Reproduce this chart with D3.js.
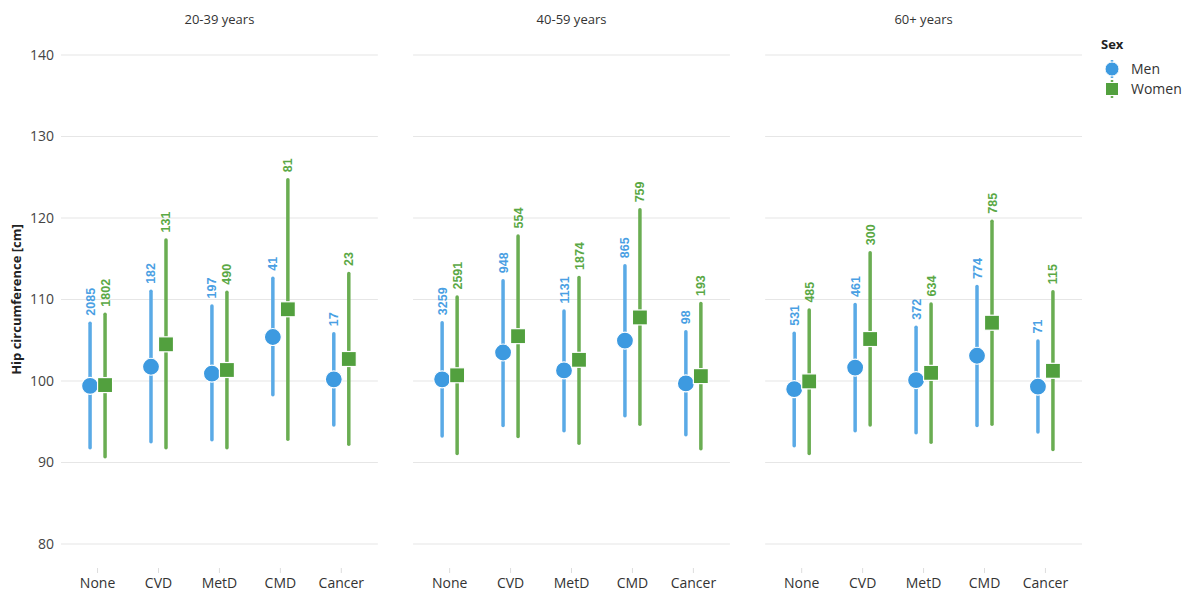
<!DOCTYPE html>
<html>
<head>
<meta charset="utf-8">
<script src="https://cdn.jsdelivr.net/npm/d3@7"></script>
<style>
  body { margin: 0; background: #fff; }
  text { font-family: "Open Sans", "Noto Sans", sans-serif; }
</style>
</head>
<body>
<svg id="chart" width="1192" height="596"></svg>
<script>
var ageGroups = ["20-39 years", "40-59 years", "60+ years"];
var diseases = ["None", "CVD", "MetD", "CMD", "Cancer"];
var sexes = ["Men", "Women"];
var yTicks = [80, 90, 100, 110, 120, 130, 140];

// per age group, per disease: mean, lower, upper, n
var menMean = [[99.4, 101.75, 100.9, 105.4, 100.2], [100.2, 103.5, 101.3, 104.95, 99.7], [99.0, 101.65, 100.1, 103.1, 99.3]];
var menLow  = [[91.8, 92.55, 92.8, 98.3, 94.6], [93.25, 94.55, 93.9, 95.75, 93.4], [92.05, 93.9, 93.65, 94.55, 93.75]];
var menHigh = [[107.1, 111.0, 109.2, 112.6, 105.8], [107.15, 112.3, 108.6, 114.15, 106.05], [105.85, 109.4, 106.6, 111.6, 104.9]];
var menN    = [[2085, 182, 197, 41, 17], [3259, 948, 1131, 865, 98], [531, 461, 372, 774, 71]];

var womenMean = [[99.5, 104.5, 101.35, 108.8, 102.7], [100.7, 105.5, 102.6, 107.8, 100.6], [99.95, 105.15, 101.0, 107.15, 101.25]];
var womenLow  = [[90.7, 91.8, 91.8, 92.85, 92.25], [91.1, 93.2, 92.35, 94.7, 91.7], [91.1, 94.6, 92.5, 94.7, 91.6]];
var womenHigh = [[108.2, 117.3, 110.9, 124.7, 113.2], [110.3, 117.8, 112.7, 121.0, 109.5], [108.7, 115.75, 109.45, 119.6, 110.95]];
var womenN    = [[1802, 131, 490, 81, 23], [2591, 554, 1874, 759, 193], [485, 300, 634, 785, 115]];

var pointColor = { Men: "#3d9ae0", Women: "#52a03e" };
var lineColor = { Men: "#5aaae6", Women: "#6aad52" };
var labelColor = { Men: "#4a9fe3", Women: "#5aa845" };

var svg = d3.select("#chart");

var y = d3.scaleLinear().domain([80, 140]).range([544, 55]);
var panelX = d3.scaleBand().domain(ageGroups).range([61, 1082]).paddingInner(0.1).paddingOuter(0);
var dodge = d3.scalePoint().domain(sexes).range([-7.5, 7.5]);

// y axis labels (left panel only)
svg.append("g").selectAll("text")
    .data(yTicks).enter().append("text")
    .attr("x", 54).attr("y", function (d) { return y(d); })
    .attr("dy", "0.35em")
    .attr("text-anchor", "end")
    .style("font-size", "14px").style("fill", "#444")
    .text(function (d) { return d; });

svg.append("text")
    .attr("transform", "translate(21," + y(110) + ") rotate(-90)")
    .attr("text-anchor", "middle")
    .style("font-size", "13px").style("font-weight", "bold").style("fill", "#222")
    .text("Hip circumference [cm]");

ageGroups.forEach(function (age, gi) {
    var x0 = panelX(age);
    var w = panelX.bandwidth();
    var x = d3.scalePoint().domain(diseases).range([x0, x0 + w]).padding(0.6);
    var g = svg.append("g");

    // facet title
    g.append("text")
        .attr("x", x0 + w / 2).attr("y", 19).attr("dy", "0.35em")
        .attr("text-anchor", "middle")
        .style("font-size", "13px").style("fill", "#333")
        .text(age);

    // gridlines
    g.append("g").selectAll("line")
        .data(yTicks).enter().append("line")
        .attr("x1", x0).attr("x2", x0 + w)
        .attr("y1", function (d) { return y(d); })
        .attr("y2", function (d) { return y(d); })
        .style("stroke", "#e6e6e6").style("stroke-width", 1.2);

    // x axis ticks and labels
    var xa = g.append("g").selectAll("g")
        .data(diseases).enter().append("g")
        .attr("transform", function (d) { return "translate(" + x(d) + ",0)"; });
    xa.append("line")
        .attr("y1", 568).attr("y2", 573)
        .style("stroke", "#ddd");
    xa.append("text")
        .attr("y", 583).attr("dy", "0.35em")
        .attr("text-anchor", "middle")
        .style("font-size", "14px").style("fill", "#333")
        .text(function (d) { return d; });

    var rows = [];
    diseases.forEach(function (dis, di) {
        rows.push({ sex: "Men", dis: dis, mean: menMean[gi][di], lo: menLow[gi][di], hi: menHigh[gi][di], n: menN[gi][di] });
        rows.push({ sex: "Women", dis: dis, mean: womenMean[gi][di], lo: womenLow[gi][di], hi: womenHigh[gi][di], n: womenN[gi][di] });
    });
    function px(d) { return x(d.dis) + dodge(d.sex); }

    g.append("g").selectAll("line")
        .data(rows).enter().append("line")
        .attr("x1", px).attr("x2", px)
        .attr("y1", function (d) { return y(d.lo); })
        .attr("y2", function (d) { return y(d.hi); })
        .style("stroke", function (d) { return lineColor[d.sex]; })
        .style("stroke-width", 3.5)
        .style("stroke-linecap", "round");

    var pts = g.append("g").selectAll("g")
        .data(rows).enter().append("g")
        .attr("transform", function (d) { return "translate(" + px(d) + "," + y(d.mean) + ")"; });
    pts.filter(function (d) { return d.sex == "Men"; })
        .append("circle").attr("r", 8.5)
        .style("fill", pointColor.Men).style("stroke", "#fff").style("stroke-width", 1.2);
    pts.filter(function (d) { return d.sex == "Women"; })
        .append("rect").attr("x", -7.5).attr("y", -7.5).attr("width", 15).attr("height", 15)
        .style("fill", pointColor.Women).style("stroke", "#fff").style("stroke-width", 1.2);

    g.append("g").selectAll("text")
        .data(rows).enter().append("text")
        .attr("transform", function (d) { return "translate(" + (px(d) + 4.5) + "," + (y(d.hi) - 7.5) + ") rotate(-90)"; })
        .style("font-family", "'Liberation Sans', Arial, sans-serif")
        .style("font-size", "12.5px").style("font-weight", "bold")
        .style("fill", function (d) { return labelColor[d.sex]; })
        .text(function (d) { return d.n; });
});

// legend
var legend = svg.append("g").attr("transform", "translate(1100,0)");
legend.append("text")
    .attr("x", 1).attr("y", 44).attr("dy", "0.35em")
    .style("font-size", "13px").style("font-weight", "bold").style("fill", "#222")
    .text("Sex");
var li = legend.selectAll(".legend")
    .data(sexes).enter().append("g")
    .attr("class", "legend")
    .attr("transform", function (d, i) { return "translate(12," + (69 + i * 20) + ")"; });
li.append("line")
    .attr("y1", -9).attr("y2", 9)
    .style("stroke", function (d) { return lineColor[d]; }).style("stroke-width", 2.5);
li.filter(function (d) { return d == "Men"; }).append("circle").attr("r", 7)
    .style("fill", pointColor.Men).style("stroke", "#fff");
li.filter(function (d) { return d == "Women"; }).append("rect")
    .attr("x", -6.5).attr("y", -6.5).attr("width", 13).attr("height", 13)
    .style("fill", pointColor.Women).style("stroke", "#fff");
li.append("text")
    .attr("x", 19).attr("dy", "0.35em")
    .style("font-size", "14px").style("fill", "#333")
    .text(function (d) { return d; });
</script>
</body>
</html>
